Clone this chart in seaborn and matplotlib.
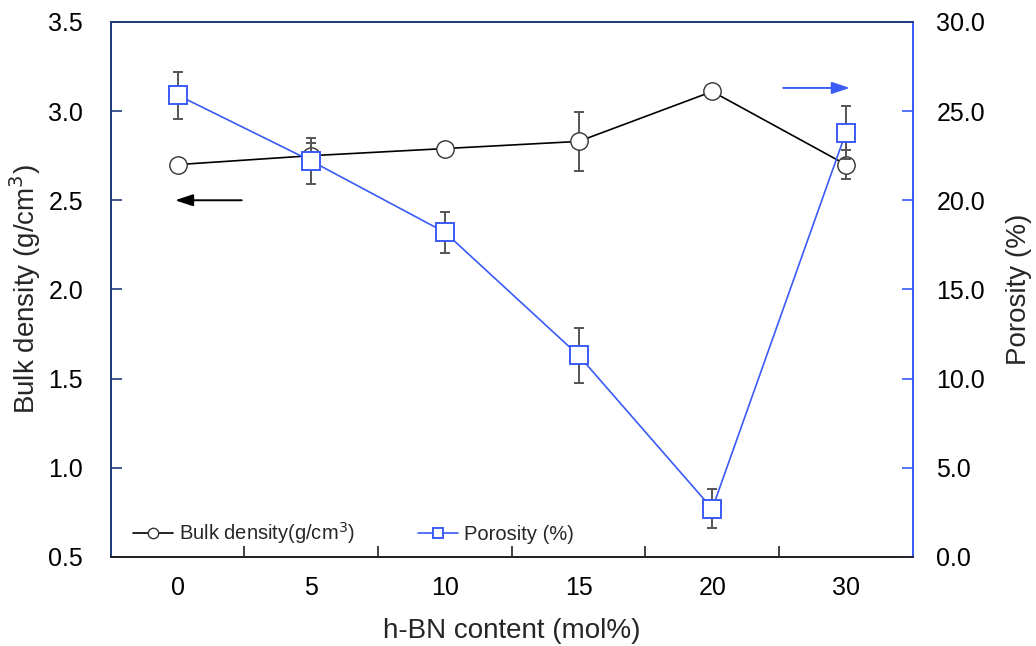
import numpy as np
import pandas as pd
import matplotlib
matplotlib.use("Agg")
import matplotlib.pyplot as plt
import seaborn as sns

# h-BN content categories (mol%)
hbn_content = ["0", "5", "10", "15", "20", "30"]

# Bulk density (g/cm3) and its standard deviation
bulk_density = [2.70, 2.75, 2.79, 2.83, 3.11, 2.70]
bulk_density_err = [0.02, 0.07, 0.02, 0.165, 0.02, 0.08]

# Porosity (%) and its standard deviation
porosity = [25.9, 22.2, 18.2, 11.3, 2.7, 23.8]
porosity_err = [1.32, 1.3, 1.15, 1.55, 1.1, 1.5]

sns.set_theme(style="white")
plt.rcParams["font.family"] = ["Liberation Sans", "DejaVu Sans"]

NAVY = "#1F3C7A"
BLUE = "#3A5BF5"
ERR = "#555555"
TICK_FS = 18
LABEL_FS = 20

df = pd.DataFrame({
    "pos": np.arange(len(hbn_content)),
    "content": hbn_content,
    "density": bulk_density,
    "density_err": bulk_density_err,
    "porosity": porosity,
    "porosity_err": porosity_err,
})

fig = plt.figure(figsize=(10.36, 6.46), dpi=100)
ax = fig.add_axes([0.107, 0.138, 0.774, 0.828])
ax2 = ax.twinx()

# Bulk density on the left axis
ax.errorbar(df["pos"], df["density"], yerr=df["density_err"], fmt="none",
            ecolor=ERR, elinewidth=1.4, capsize=3.5, capthick=1.4, zorder=2)
sns.lineplot(data=df, x="pos", y="density", ax=ax, color="black", lw=1.2,
             marker="o", markersize=12.5, markerfacecolor="white",
             markeredgecolor="#333333", markeredgewidth=1.0, zorder=3,
             label="Bulk density(g/cm$^3$)", legend=False)

# Porosity on the right axis
ax2.errorbar(df["pos"], df["porosity"], yerr=df["porosity_err"], fmt="none",
             ecolor=ERR, elinewidth=1.4, capsize=3.5, capthick=1.4, zorder=2)
sns.lineplot(data=df, x="pos", y="porosity", ax=ax2, color=BLUE, lw=1.2,
             marker="s", markersize=12.5, markerfacecolor="white",
             markeredgecolor=BLUE, markeredgewidth=1.4, zorder=3,
             label="Porosity (%)", legend=False)

# Axis limits and ticks
ax.set_xlim(-0.5, len(hbn_content) - 0.5)
ax.set_ylim(0.5, 3.5)
ax2.set_ylim(0, 30)
ax.set_yticks(np.arange(0.5, 3.51, 0.5))
ax.set_yticklabels([f"{v:.1f}" for v in np.arange(0.5, 3.51, 0.5)])
ax2.set_yticks(np.arange(0, 30.1, 5))
ax2.set_yticklabels([f"{v:.1f}" for v in np.arange(0, 30.1, 5)])

ax.set_xticks(df["pos"])
ax.set_xticklabels(hbn_content)
ax.set_xticks(np.arange(0.5, len(hbn_content) - 1, 1.0), minor=True)
ax.tick_params(axis="x", which="major", length=0, pad=14, labelsize=TICK_FS, colors="black")
ax.tick_params(axis="x", which="minor", direction="in", length=8, width=1.2,
               color="#222222", bottom=True)
ax.tick_params(axis="y", direction="in", length=8, width=1.2, color=NAVY,
               labelsize=TICK_FS, labelcolor="black", pad=20, left=True)
ax2.tick_params(axis="y", direction="in", length=8, width=1.2, color=BLUE,
                labelsize=TICK_FS, labelcolor="black", pad=17, right=True)

for a in (ax, ax2):
    a.spines["left"].set_color(NAVY)
    a.spines["top"].set_color(NAVY)
    a.spines["bottom"].set_color("#222222")
    a.spines["right"].set_color(BLUE)
    for s in a.spines.values():
        s.set_linewidth(1.3)
    a.grid(False)

ax.set_xlabel("h-BN content (mol%)", fontsize=LABEL_FS, labelpad=13)
ax.set_ylabel("Bulk density (g/cm$^3$)", fontsize=LABEL_FS, labelpad=4)
ax2.set_ylabel("Porosity (%)", fontsize=LABEL_FS, labelpad=15)

# Arrows pointing to each series' axis
ax.annotate("", xy=(-0.04, 2.5), xytext=(0.5, 2.5),
            arrowprops=dict(arrowstyle="-|>,head_length=0.9,head_width=0.3",
                            color="black", lw=1.4))
ax2.annotate("", xy=(5.05, 26.3), xytext=(4.51, 26.3),
             arrowprops=dict(arrowstyle="-|>,head_length=0.9,head_width=0.3",
                             color=BLUE, lw=1.4))

# Combined legend along the bottom
h1, l1 = ax.get_legend_handles_labels()
h2, l2 = ax2.get_legend_handles_labels()
leg = ax2.legend(h1 + h2, l1 + l2, loc="lower left", bbox_to_anchor=(0.014, 0.0),
                 ncol=2, frameon=False, fontsize=14.5, handlelength=2.0,
                 markerscale=0.6, columnspacing=3.1, handletextpad=0.3,
                 borderaxespad=0.15)

fig.savefig("out.png", dpi=100, facecolor="white")
